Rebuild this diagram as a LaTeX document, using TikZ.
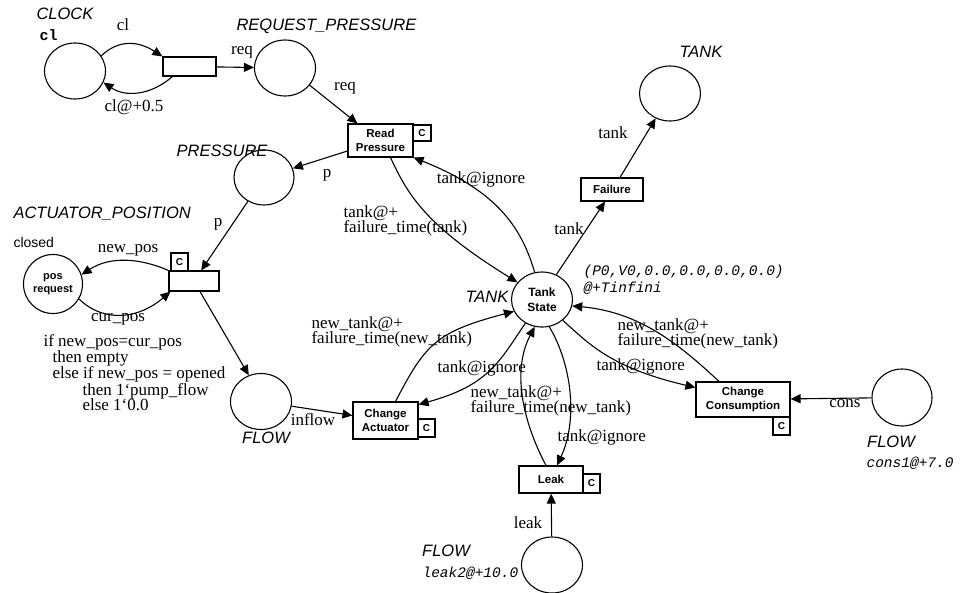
\documentclass[tikz,border=0pt]{standalone}
\usepackage{fontspec}
\setmainfont{Liberation Serif}
\newfontfamily\hvfont{Liberation Sans}
\newfontfamily\courfont{Liberation Mono}
\usetikzlibrary{shapes.geometric,arrows.meta,calc}
\begin{document}
\begin{tikzpicture}[x=1pt,y=-1pt, line width=1.1pt,
 place/.style={draw, ellipse, minimum width=61pt, minimum height=56pt, inner sep=0pt, align=center, font=\hvfont\bfseries\fontsize{12}{14.5}\selectfont},
 trans/.style={draw, rectangle, inner sep=0pt, align=center, font=\hvfont\bfseries\fontsize{11.5}{14.5}\selectfont},
 cbox/.style={draw, rectangle, minimum width=17pt, minimum height=17pt, inner sep=0pt, font=\hvfont\bfseries\fontsize{10}{10}\selectfont},
 arc/.style={-{Triangle[length=10pt,width=9pt]}},
 lbl/.style={inner sep=0pt, font=\fontsize{17}{15.5}\selectfont, align=left},
 typ/.style={inner sep=0pt, font=\hvfont\itshape\fontsize{16.5}{18}\selectfont},
 tok/.style={inner sep=0pt, font=\courfont\itshape\fontsize{14.5}{16.5}\selectfont, align=left},
]
\useasboundingbox (0,0) rectangle (960,592);

% places and transitions
\node[place] (clock) at (75,71) {};
\node[trans, minimum width=53pt, minimum height=19pt] (clockT) at (189.5,66.5) {};
\node[place] (reqp) at (285,68) {};
\node[trans, minimum width=65pt, minimum height=33pt] (readP) at (380.5,140.5) {Read\\Pressure};
\node[cbox, minimum width=18pt, minimum height=16pt] (readPc) at (422,133) {C};
\node[place, minimum width=60pt, minimum height=55pt] (press) at (264,177.5) {};
\node[place, minimum width=59pt, minimum height=59pt, font=\hvfont\bfseries\fontsize{11}{13.5}\selectfont] (posreq) at (53,284) {pos\\request};
\node[trans, minimum width=50pt, minimum height=20pt] (actT) at (194,281) {};
\node[cbox, minimum height=18pt] (actTc) at (179.5,262) {C};
\node[place] (flowA) at (261,401.5) {};
\node[trans, minimum width=65pt, minimum height=37pt] (chAct) at (385.5,420.5) {Change\\Actuator};
\node[cbox, minimum height=18pt] (chActc) at (426.5,428) {C};
\node[place, minimum height=55pt] (tank) at (542,299.5) {Tank\\State};
\node[trans, minimum width=62pt, minimum height=23pt] (fail) at (612,189.5) {Failure};
\node[place, minimum height=55pt] (tankTop) at (670,93.5) {};
\node[trans, minimum width=94pt, minimum height=35pt] (chCons) at (743,399.5) {Change\\Consumption};
\node[cbox, minimum height=18pt] (chConsc) at (781.5,426) {C};
\node[place, minimum width=60pt, minimum height=57pt] (flowR) at (902,397.5) {};
\node[trans, minimum width=64pt, minimum height=27pt] (leak) at (551,479.5) {Leak};
\node[cbox, minimum height=19pt] (leakc) at (591.5,483.5) {C};
\node[place] (flowB) at (552,565) {};

% labels
\node[typ, anchor=west] (lclock) at (36,14) {CLOCK};
\node[anchor=west, inner sep=0pt, font=\courfont\bfseries\fontsize{15}{17}\selectfont] (lcl) at (39,35) {cl};
\node[lbl] (lcl1) at (123,25) {cl};
\node[lbl] (lreq1) at (242,52) {req};
\node[lbl] (lcl2) at (134,107) {cl@+0.5};
\node[typ, anchor=west] (lreqp) at (236,26) {REQUEST\_PRESSURE};
\node[lbl] (lreq2) at (345,88) {req};
\node[typ, anchor=east] (lpress) at (268,151) {PRESSURE};
\node[lbl] (lp1) at (327,175) {p};
\node[typ, anchor=west] (lact) at (13,214) {ACTUATOR\_POSITION};
\node[anchor=west, inner sep=0pt, font=\hvfont\fontsize{14}{16}\selectfont] (lclosed) at (13,242) {closed};
\node[lbl] (lp2) at (218,224) {p};
\node[lbl] (lnew) at (128,250) {new\_pos};
\node[lbl] (lcur) at (118,319) {cur\_pos};
\node[lbl, anchor=north west] (lguard) at (43,334) {if new\_pos=cur\_pos\\\hspace*{9pt}then empty\\\hspace*{9pt}else if new\_pos = opened\\\hspace*{39pt}then 1‘pump\_flow\\\hspace*{39pt}else 1‘0.0};

\node[lbl, anchor=west] (lt1) at (343,221) {tank@+\\failure\_time(tank)};
\node[lbl] (lt2) at (481,179) {tank@ignore};
\node[lbl, anchor=west] (lt3) at (311,332) {new\_tank@+\\failure\_time(new\_tank)};
\node[lbl, anchor=west] (lt4) at (437,368) {tank@ignore};
\node[lbl, anchor=west] (lt5) at (470,401) {new\_tank@+\\failure\_time(new\_tank)};
\node[lbl, anchor=west] (lt6) at (557,437) {tank@ignore};
\node[lbl, anchor=west] (lt7) at (617,334) {new\_tank@+\\failure\_time(new\_tank)};
\node[lbl, anchor=west] (lt8) at (596,366) {tank@ignore};
\node[lbl] (lt9) at (569,229) {tank};
\node[lbl] (lt10) at (613,133) {tank};
\node[typ] (ltank) at (487,297) {TANK};
\node[tok, anchor=west] (ltok) at (583,279.5) {(P0,V0,0.0,0.0,0.0,0.0)\\@+Tinfini};
\node[typ] (ltanktop) at (701,52) {TANK};
\node[lbl] (lcons) at (845,404) {cons};
\node[typ] (lflowR) at (891,442) {FLOW};
\node[tok, anchor=west] (ltokR) at (866,463) {cons1@+7.0};
\node[lbl] (linflow) at (313,420) {inflow};
\node[typ] (lflowA) at (266,438) {FLOW};
\node[lbl] (lleak) at (528,523) {leak};
\node[typ] (lflowB) at (446,551) {FLOW};
\node[tok, anchor=west] (ltokB) at (422,573) {leak2@+10.0};

% arcs
\draw[arc] (clock.30) .. controls (120,38) and (140,42) .. (clockT.north west);
\draw[arc] ($(clockT.south west)+(10,0)$) .. controls (150,96) and (125,97) .. (clock.-22);
\draw[arc] (clockT) -- (reqp);
\draw[arc] (reqp.-35) -- ($(readP.north west)+(10,0)$);
\draw[arc] (readP) -- (press);
\draw[arc] (press) -- (actT);
\draw[arc] (actT.north west) .. controls (140,258) and (110,256) .. (posreq.18);
\draw[arc] (posreq.-30) .. controls (105,324) and (140,318) .. ($(actT.south west)+(2,0)$);
\draw[arc] ($(actT.south)+(6,0)$) -- (flowA.115);
\draw[arc] (flowA) -- (chAct);
\draw[arc] ($(chAct.north)+(10,0)$) .. controls (425,345) and (435,332) .. (tank.203);
\draw[arc] (tank.235) .. controls (500,360) and (490,385) .. ($(chAct.north east)+(0,3)$);
\draw[arc] ($(readP.south)+(10,0)$) .. controls (408,195) and (425,225) .. (tank.145);
\draw[arc] (tank.105) .. controls (522,230) and (500,192) .. (readP.south east);
\draw[arc] (tank.60) -- ($(fail.south)+(-7,0)$);
\draw[arc] ($(fail.north)+(8,0)$) -- (tankTop.240);
\draw[arc] ($(chCons.north)+(-24,0)$) .. controls (680,345) and (640,312) .. (tank.-12);
\draw[arc] (tank.-45) .. controls (590,345) and (612,368) .. ($(chCons.west)+(0,-12)$);
\draw[arc] (flowR) -- (chCons);
\draw[arc] ($(leak.north)+(-5,0)$) .. controls (522,420) and (512,370) .. (tank.-105);
\draw[arc] (tank.-75) .. controls (572,365) and (578,420) .. ($(leak.north)+(6,0)$);
\draw[arc] (flowB) -- (leak);
\end{tikzpicture}
\end{document}
